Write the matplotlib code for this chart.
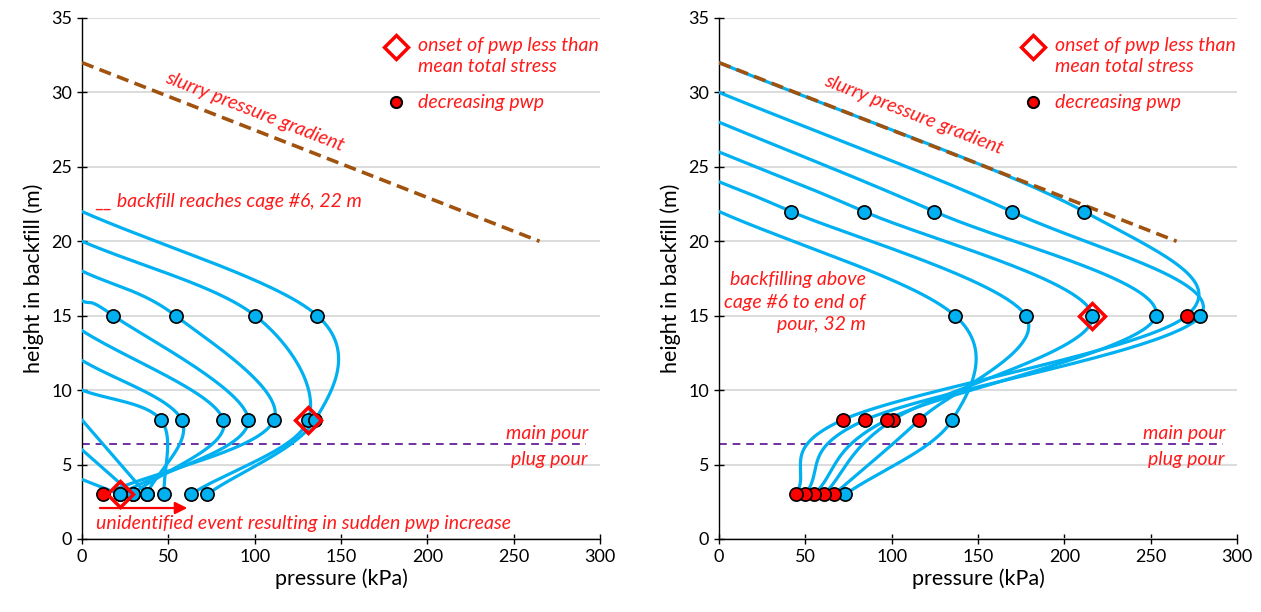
import numpy as np
import matplotlib
matplotlib.use('Agg')
import matplotlib.pyplot as plt

plt.rcParams['font.family'] = ['Lato', 'DejaVu Sans']

nan = np.nan

# sensor (cage) heights, m
sensor_z = [22, 15, 8, 3]

# ---- left panel: backfill up to cage #6 (22 m)
left_H = [4, 6, 8, 10, 12, 14, 16, 18, 20, 22]
left_p22 = [nan, nan, nan, nan, nan, nan, nan, nan, nan, nan]
left_p15 = [nan, nan, nan, nan, nan, nan, 18.2, 54.2, 100.3, 136.3]
left_p8 = [nan, nan, nan, 45.7, 57.7, 81.8, 96.3, 111.2, 131.0, 135.0]
left_p3 = [22.0, 29.3, 37.4, 47.6, 37.4, 29.3, 22.0, 12.0, 63.0, 72.4]
# decreasing pwp flags per sensor
left_red15 = [False] * 10
left_red8 = [False] * 10
left_red3 = [False, False, False, False, False, False, False, True, False, False]
left_onset_p = [131.0, 22.0]
left_onset_z = [8, 3]

# ---- right panel: backfilling above cage #6 to end of pour (32 m)
right_H = [22, 24, 26, 28, 30, 32]
right_p22 = [nan, 41.7, 84.0, 124.7, 169.5, 211.4]
right_p15 = [136.7, 177.6, 216.2, 253.0, 278.8, 270.8]
right_p8 = [135.1, 116.0, 100.6, 97.1, 84.7, 71.6]
right_p3 = [73.1, 66.6, 61.0, 55.2, 49.8, 44.6]
right_red15 = [False, False, False, False, False, True]
right_red8 = [False, True, True, True, True, True]
right_red3 = [False, True, True, True, True, True]
right_onset_p = [216.2]
right_onset_z = [15]

# slurry pressure gradient line
slurry_p = [0, 265]
slurry_z = [32, 20]
# main / plug pour boundary
pour_z = 6.38

BLUE = '#00B0F0'
RED = '#FF0000'
TXT = '#FF1A1A'
FS = 14


def smooth(points, n=60):
    pts = np.asarray(points, float)
    if len(pts) < 3:
        return pts
    ext = np.vstack([2 * pts[0] - pts[1], pts, 2 * pts[-1] - pts[-2]])
    out = []
    t = np.linspace(0, 1, n)[:, None]
    for i in range(1, len(ext) - 2):
        p0, p1, p2, p3 = ext[i - 1], ext[i], ext[i + 1], ext[i + 2]
        seg = 0.5 * ((2 * p1) + (-p0 + p2) * t + (2 * p0 - 5 * p1 + 4 * p2 - p3) * t ** 2
                     + (-p0 + 3 * p1 - 3 * p2 + p3) * t ** 3)
        out.append(seg if i == 1 else seg[1:])
    return np.vstack(out)


def draw_panel(ax, H, p22, p15, p8, p3, r15, r8, r3, onp, onz):
    cols = [p22, p15, p8, p3]
    flags = [[False] * len(H), r15, r8, r3]
    for k, h in enumerate(H):
        pts = [(0.0, h)]
        for j, z in enumerate(sensor_z):
            v = cols[j][k]
            if z < h and not np.isnan(v):
                pts.append((v, z))
        c = smooth(pts)
        ax.plot(c[:, 0], c[:, 1], color=BLUE, lw=2.3, solid_capstyle='round', zorder=3)
    for k, h in enumerate(H):
        for j, z in enumerate(sensor_z):
            v = cols[j][k]
            if z < h and not np.isnan(v):
                fc = RED if flags[j][k] else BLUE
                ax.plot(v, z, 'o', ms=9.5, mfc=fc, mec='black', mew=1.2, zorder=5)
    ax.plot(onp, onz, 'D', ms=13, mfc='none', mec=RED, mew=2.5, zorder=6)
    ax.plot(slurry_p, slurry_z, color='#A0520F', lw=2.6, ls=(0, (3.4, 1.8)), zorder=4)
    ax.plot([0, 292], [pour_z, pour_z], color='#7030A0', lw=1.4, ls=(0, (4, 3)), zorder=2)

    ax.set_xlim(0, 300)
    ax.set_ylim(0, 35)
    ax.set_xticks(range(0, 301, 50))
    ax.set_yticks(range(0, 36, 5))
    ax.grid(axis='y', color='#D9D9D9', lw=1.3)
    ax.set_axisbelow(True)
    for s in ['top', 'right']:
        ax.spines[s].set_visible(False)
    for s in ['left', 'bottom']:
        ax.spines[s].set_color('black')
        ax.spines[s].set_linewidth(1.0)
    ax.tick_params(direction='inout', length=7, width=1.0, labelsize=13, colors='black')
    ax.set_xlabel('pressure (kPa)', fontsize=15.5, labelpad=3)
    ax.set_ylabel('height in backfill (m)', fontsize=15.5, labelpad=5)

    # legend-like annotations
    ax.plot(182, 33.05, 'D', ms=12, mfc='white', mec=RED, mew=2.5, clip_on=False, zorder=6)
    ax.text(194.5, 32.45, 'onset of pwp less than\nmean total stress', color=TXT,
            style='italic', fontsize=FS, ha='left', va='center', linespacing=1.35)
    ax.plot(182, 29.35, 'o', ms=8, mfc=RED, mec='black', mew=1.5, zorder=6)
    ax.text(194.5, 29.35, 'decreasing pwp', color=TXT, style='italic', fontsize=FS,
            ha='left', va='center')
    ax.text(293, 7.1, 'main pour', color=TXT, style='italic', fontsize=FS,
            ha='right', va='center')
    ax.text(293, 5.35, 'plug pour', color=TXT, style='italic', fontsize=FS,
            ha='right', va='center')


fig = plt.figure(figsize=(12.61, 6.12), dpi=100)
axL = fig.add_axes([0.065, 0.1193, 0.4108, 0.8513])
axR = fig.add_axes([0.5702, 0.1193, 0.4108, 0.8513])

draw_panel(axL, left_H, left_p22, left_p15, left_p8, left_p3,
           left_red15, left_red8, left_red3, left_onset_p, left_onset_z)
draw_panel(axR, right_H, right_p22, right_p15, right_p8, right_p3,
           right_red15, right_red8, right_red3, right_onset_p, right_onset_z)

axL.text(100, 28.7, 'slurry pressure gradient', color=TXT, style='italic', fontsize=FS,
         ha='center', va='center', rotation=-21.3, rotation_mode='anchor')
axR.text(113, 28.5, 'slurry pressure gradient', color=TXT, style='italic', fontsize=FS,
         ha='center', va='center', rotation=-21.3, rotation_mode='anchor')
axL.text(7.5, 22.7, '__ backfill reaches cage #6, 22 m', color=TXT, style='italic',
         fontsize=FS, ha='left', va='center')
axL.text(8.1, 1.05, 'unidentified event resulting in sudden pwp increase', color=TXT,
         style='italic', fontsize=FS, ha='left', va='center')
axL.annotate('', xy=(61, 2.08), xytext=(10.4, 2.08),
             arrowprops=dict(arrowstyle='-|>', color=RED, lw=1.6, mutation_scale=18,
                             shrinkA=0, shrinkB=0))
axR.text(85, 15.9, 'backfilling above\ncage #6 to end of\npour, 32 m', color=TXT,
         style='italic', fontsize=FS, ha='right', va='center', multialignment='right',
         linespacing=1.4)

fig.savefig('out.png', dpi=100)
